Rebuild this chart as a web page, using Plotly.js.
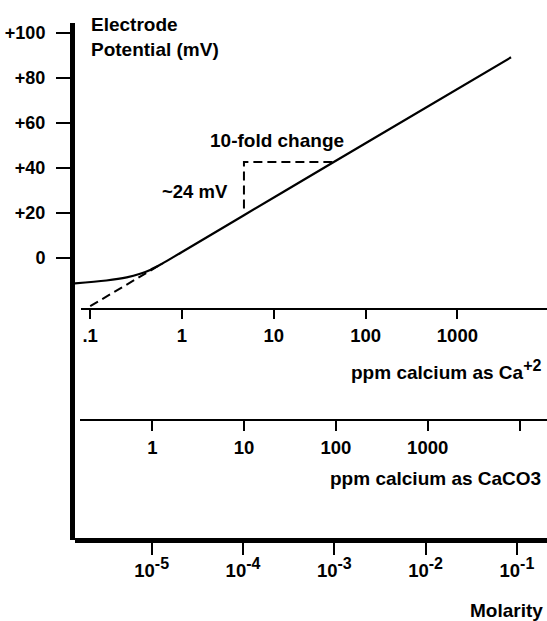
<!DOCTYPE html>
<html>
<head>
<meta charset="utf-8">
<script src="https://cdn.plot.ly/plotly-3.0.1.min.js"></script>
<style>html,body{margin:0;padding:0;background:#fff;} #chart{width:547px;height:621px;}</style>
</head>
<body>
<div id="chart"></div>
<script>
// Measured electrode response (ppm calcium as Ca+2 vs electrode potential, mV)
var curvePpm = [0.068, 0.15, 0.25, 0.35, 0.45, 0.6, 1, 4.73, 45, 111, 3840];
var curveMv  = [-11.3, -10.0, -8.6, -7.0, -5.3, -2.65, 2.7, 19.0, 42.7, 52.1, 89.2];
// Extrapolated (dashed) linear part
var extrapPpm = [0.1, 0.6];
var extrapMv  = [-21.4, -2.65];
// 10-fold change bracket
var bracketPpm = [4.73, 4.73, 45];
var bracketMv  = [22, 42.7, 42.7];

// Axis ticks
var mvTicks = [0, 20, 40, 60, 80, 100];
var mvTickText = ["0", "+20", "+40", "+60", "+80", "+100"];
var caTicks = [0.1, 1, 10, 100, 1000];
var caTickText = [".1", "1", "10", "100", "1000"];
var caco3Ticks = [1, 10, 100, 1000, 10000];
var caco3TickText = ["1", "10", "100", "1000", ""];
var molTicks = [1e-5, 1e-4, 1e-3, 1e-2, 1e-1];
var molExp = ["-5", "-4", "-3", "-2", "-1"];
var molTickText = molExp.map(function (e) {
  return "10<sup><span style=\"font-size:16px\">" + e + "</span></sup>";
});

var FONT = "'Liberation Sans', Arial, sans-serif";

var traces = [
  {x: curvePpm, y: curveMv, xaxis: 'x', yaxis: 'y', mode: 'lines', type: 'scatter',
   line: {color: '#000', width: 2.2, shape: 'spline', smoothing: 1}, hoverinfo: 'skip', showlegend: false},
  {x: extrapPpm, y: extrapMv, xaxis: 'x', yaxis: 'y', mode: 'lines', type: 'scatter',
   line: {color: '#000', width: 2, dash: '9px,5px'}, hoverinfo: 'skip', showlegend: false},
  {x: bracketPpm, y: bracketMv, xaxis: 'x', yaxis: 'y', mode: 'lines', type: 'scatter',
   line: {color: '#000', width: 2, dash: '9px,5px'}, hoverinfo: 'skip', showlegend: false},
  {x: [], y: [], xaxis: 'x2', yaxis: 'y', type: 'scatter', mode: 'lines', showlegend: false, hoverinfo: 'skip'},
  {x: [], y: [], xaxis: 'x3', yaxis: 'y', type: 'scatter', mode: 'lines', showlegend: false, hoverinfo: 'skip'},
  {x: [], y: [], xaxis: 'x4', yaxis: 'y', type: 'scatter', mode: 'lines', showlegend: false, hoverinfo: 'skip'}
];

var L = 75, R = 547, T = 23, B = 540;
var W = R - L, H = B - T;
function px2fx(p) { return (p - L) / W; }
function px2fy(p) { return (B - p) / H; }

var tickFontX = {family: FONT, size: 18.5, color: '#000', weight: 'bold'};

var layout = {
  width: 547, height: 621,
  margin: {l: L, r: 547 - R, t: T, b: 621 - B},
  paper_bgcolor: '#fff', plot_bgcolor: 'rgba(0,0,0,0)',
  showlegend: false,
  // data axis: ppm Ca (hidden, carries the curve)
  xaxis: {type: 'log', domain: [0, 1], range: [(L - 182) / 91.8, (R - 182) / 91.8],
          visible: false, fixedrange: true},
  // visible ppm Ca axis
  xaxis4: {type: 'log', domain: [px2fx(80.5), 1], range: [(80.5 - 182) / 91.8, (R - 182) / 91.8],
           anchor: 'free', position: px2fy(308.5), showline: true, linewidth: 2.6, linecolor: '#000',
           ticks: 'outside', ticklen: 9, tickwidth: 2, tickcolor: '#000',
           tickmode: 'array', tickvals: caTicks, ticktext: caTickText,
           tickfont: tickFontX, ticklabelstandoff: 1,
           showgrid: false, zeroline: false, fixedrange: true},
  // ppm CaCO3 axis
  xaxis2: {type: 'log', domain: [px2fx(79.5), 1], range: [(79.5 - 152.3) / 91.8, (R - 152.3) / 91.8],
           anchor: 'free', position: px2fy(419.5), showline: true, linewidth: 2.6, linecolor: '#000',
           ticks: 'outside', ticklen: 10, tickwidth: 2, tickcolor: '#000',
           tickmode: 'array', tickvals: caco3Ticks, ticktext: caco3TickText,
           tickfont: tickFontX, ticklabelstandoff: 1,
           showgrid: false, zeroline: false, fixedrange: true},
  // Molarity axis
  xaxis3: {type: 'log', domain: [0, 1], range: [-5 + (L - 151.7) / 91.3, -5 + (R - 151.7) / 91.3],
           anchor: 'free', position: 0, showline: true, linewidth: 5, linecolor: '#000',
           ticks: 'outside', ticklen: 12, tickwidth: 2, tickcolor: '#000',
           tickmode: 'array', tickvals: molTicks, ticktext: molTickText,
           tickfont: tickFontX,
           showgrid: false, zeroline: false, fixedrange: true},
  yaxis: {domain: [0, 1], range: [(258 - B) / 2.25, (258 - T) / 2.25],
          showline: true, linewidth: 5, linecolor: '#000',
          ticks: 'outside', ticklen: 14, tickwidth: 2, tickcolor: '#000',
          tickmode: 'array', tickvals: mvTicks, ticktext: mvTickText,
          tickfont: {family: FONT, size: 18, color: '#000', weight: 'bold'}, ticklabelstandoff: 7,
          showgrid: false, zeroline: false, fixedrange: true},
  annotations: [
    {text: 'Electrode<br>Potential (mV)', xref: 'paper', yref: 'paper', x: px2fx(89), y: px2fy(12),
     xanchor: 'left', yanchor: 'top', align: 'left', showarrow: false,
     font: {family: FONT, size: 19, color: '#000', weight: 'bold'}},
    {text: '10-fold change', xref: 'paper', yref: 'paper', x: px2fx(276.5), y: px2fy(140.7),
     xanchor: 'center', yanchor: 'middle', showarrow: false,
     font: {family: FONT, size: 19, color: '#000', weight: 'bold'}},
    {text: '~24 mV', xref: 'paper', yref: 'paper', x: px2fx(230), y: px2fy(191.7),
     xanchor: 'right', yanchor: 'middle', showarrow: false,
     font: {family: FONT, size: 18.5, color: '#000', weight: 'bold'}},
    {text: 'ppm calcium as Ca<sup><span style="font-size:16px">+2</span></sup>', xref: 'paper', yref: 'paper',
     x: px2fx(543), y: px2fy(370),
     xanchor: 'right', yanchor: 'middle', showarrow: false,
     font: {family: FONT, size: 19, color: '#000', weight: 'bold'}},
    {text: 'ppm calcium as CaCO3', xref: 'paper', yref: 'paper', x: px2fx(543), y: px2fy(478),
     xanchor: 'right', yanchor: 'middle', showarrow: false,
     font: {family: FONT, size: 19, color: '#000', weight: 'bold'}},
    {text: 'Molarity', xref: 'paper', yref: 'paper', x: px2fx(545), y: px2fy(610),
     xanchor: 'right', yanchor: 'middle', showarrow: false,
     font: {family: FONT, size: 19, color: '#000', weight: 'bold'}}
  ]
};

Plotly.newPlot('chart', traces, layout, {staticPlot: true, displayModeBar: false});
</script>
</body>
</html>
